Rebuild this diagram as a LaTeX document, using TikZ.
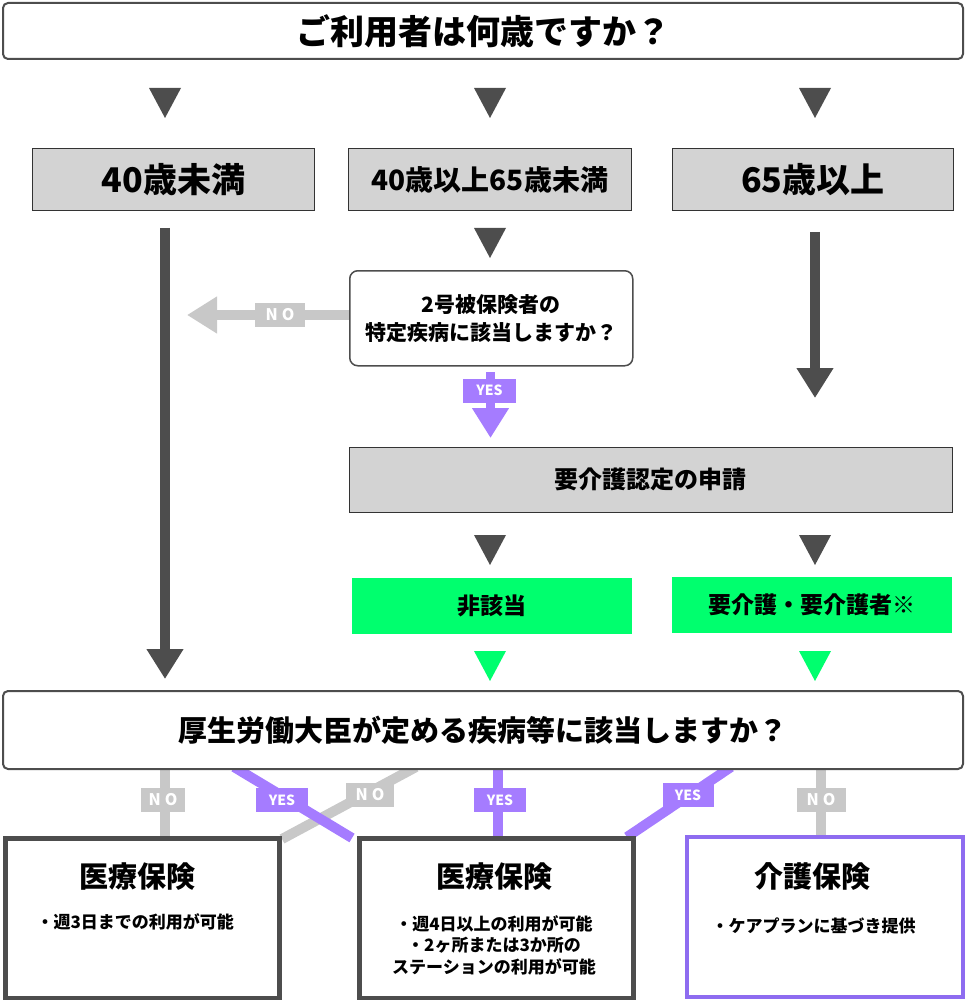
\documentclass[tikz,border=0pt]{standalone}
\usepackage{fontspec}
\setmainfont{Noto Sans CJK JP}
\usetikzlibrary{arrows.meta}
\definecolor{dk}{HTML}{4D4D4D}
\definecolor{lg}{HTML}{C8C8C8}
\definecolor{pu}{HTML}{A57CFF}
\definecolor{pb}{HTML}{8E6CF0}
\definecolor{gn}{HTML}{00FF6E}
\definecolor{bx}{HTML}{D3D3D3}
\pgfdeclarelayer{bg}
\pgfsetlayers{bg,main}
\newcommand\fs[1]{\fontsize{#1}{#1}\selectfont\bfseries}
\newcommand\dtri[3]{\fill[#3] (#1-16,#2) -- (#1+16,#2) -- (#1,#2+30) -- cycle;}
\begin{document}
\begin{tikzpicture}[x=1pt,y=-1pt,
  qbox/.style={draw=dk, line width=2pt, rounded corners=5pt, fill=white, inner sep=0pt, anchor=north west},
  agebox/.style={draw=black!80, line width=0.8pt, fill=bx, inner sep=0pt, anchor=north west, minimum height=62pt},
  grbox/.style={fill=gn, inner sep=0pt, anchor=north west, minimum height=56pt, minimum width=280pt, font=\fs{23}},
  resbox/.style={draw=dk, line width=5pt, fill=white, inner sep=0pt, anchor=north west, minimum width=274pt, minimum height=160pt},
  lbl/.style={inner sep=0pt, minimum width=50pt, minimum height=24pt, text=white, font=\fs{14}},
  nolbl/.style={lbl, fill=lg, font=\fs{16}},
  fat/.style={line width=10pt},
  bigtip/.style={-{Triangle[width=35pt,length=30pt]}},
  ttl/.style={font=\fs{29}},
  bul/.style={font=\fs{17}, align=center}
]
\useasboundingbox (0,0) rectangle (965,1000);

% top question
\node[qbox, minimum width=960pt, minimum height=56pt] (top) at (2,2) {};
\node[font=\fs{34}] at (top.center) {ご利用者は何歳ですか？};

\dtri{165}{88}{dk}
\dtri{490}{88}{dk}
\dtri{815}{88}{dk}

% age boxes
\node[agebox, minimum width=282pt, font=\fs{34}] (a1) at (32,148) {40歳未満};
\node[agebox, minimum width=283pt, font=\fs{28}] (a2) at (348,148) {40歳以上65歳未満};
\node[agebox, minimum width=281pt, font=\fs{34}] (a3) at (672,148) {65歳以上};

\dtri{490}{228}{dk}

% specific disease question
\node[draw=dk, line width=1.5pt, rounded corners=8pt, fill=white, anchor=north west,
      minimum width=283pt, minimum height=95pt, inner sep=0pt, align=center,
      font=\fs{21}] (sp) at (349,270) {2号被保険者の\\[7pt]特定疾病に該当しますか？};

% application
\node[agebox, minimum width=603pt, minimum height=65pt, font=\fs{24}] (app) at (349,447) {要介護認定の申請};

\dtri{490}{535}{dk}
\dtri{815}{535}{dk}

% green results
\node[grbox] (g1) at (352,578) {非該当};
\node[grbox] (g2) at (672,577) {要介護・要介護者※};

\dtri{490}{651}{gn}
\dtri{815}{651}{gn}

% big question
\node[qbox, minimum width=960pt, minimum height=78pt] (q2) at (2,690) {};
\node[font=\fs{29}] at (q2.center) {厚生労働大臣が定める疾病等に該当しますか？};

% result boxes
\node[resbox] (r1) at (2.5,835.5) {};
\node[resbox] (r2) at (356.5,835.5) {};
\node[resbox, draw=pb, line width=4pt, minimum width=276pt] (r3) at (685,835) {};

\node[ttl] at (137,877) {医療保険};
\node[bul, anchor=west] at (33,922) {・週3日までの利用が可能};
\node[ttl] at (494,877) {医療保険};
\node[bul] at (494,924) {・週4日以上の利用が可能};
\node[bul] at (494,945.5) {・2ヶ所または3か所の};
\node[bul] at (494,967) {ステーションの利用が可能};
\node[ttl] at (812,876) {介護保険};
\node[bul, anchor=west] at (708,926) {・ケアプランに基づき提供};

% coordinates for connectors
\coordinate (e1) at (165,679);
\coordinate (l3) at (815,232);
\coordinate (e3) at (815,398);
\coordinate (noend) at (187,315);
\coordinate (yesend) at (490.5,438);

\begin{pgfonlayer}{bg}
  % long arrows
  \draw[dk, fat, bigtip] (165,228) -- (e1);
  \draw[dk, fat, bigtip] (l3) -- (e3);
  % NO from specific question
  \draw[lg, fat, bigtip] (sp.west |- 0,315) -- (noend);
  % YES from specific question
  \draw[pu, fat, line width=9.5pt, bigtip] (490.5,372) -- (yesend);
  % bottom connectors
  \draw[lg, fat] (165,767) -- (165,836);
  \draw[lg, fat] (416,767) -- (282,839);
  \draw[pu, fat] (234,767) -- (352,838);
  \draw[pu, fat] (498,767) -- (498,836);
  \draw[pu, fat] (731,767) -- (627,837);
  \draw[lg, fat] (821,767) -- (821,836);
\end{pgfonlayer}

% labels
\node[nolbl] (nol) at (280,315) {N\hspace{4pt}O};
\node[lbl, fill=pu, minimum width=53pt] (yesl) at (489.5,390.5) {YES};
\node[nolbl, minimum width=44pt] (n1) at (163,800) {N\hspace{4pt}O};
\node[lbl, fill=pu, minimum width=52pt] (y1) at (282,800) {YES};
\node[nolbl, minimum width=48pt] (n2) at (370,795) {N\hspace{4pt}O};
\node[lbl, fill=pu, minimum width=52pt] (y2) at (500,800) {YES};
\node[lbl, fill=pu, minimum width=51pt] (y3) at (688,795) {YES};
\node[nolbl, minimum width=49pt] (n3) at (821,800) {N\hspace{4pt}O};
\end{tikzpicture}
\end{document}
